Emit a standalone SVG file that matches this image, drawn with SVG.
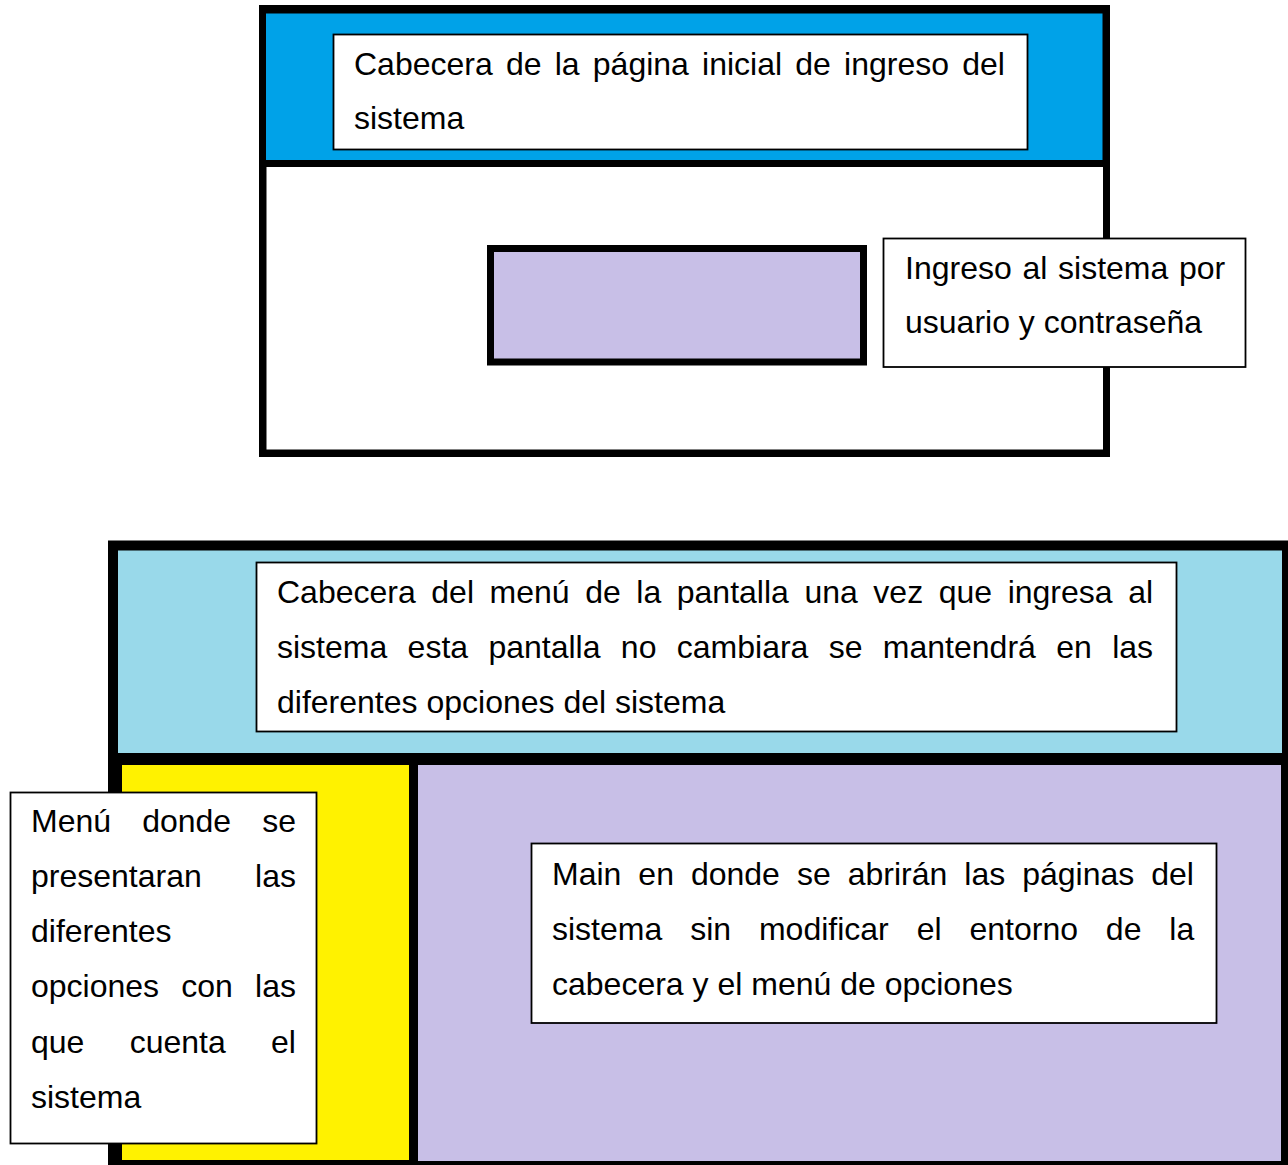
<svg xmlns="http://www.w3.org/2000/svg" width="1288" height="1165" viewBox="0 0 1288 1165">
  <style>
    .frame { fill: #000000; }
    .label { fill: #ffffff; stroke: #000000; stroke-width: 1.8; }
    .txt { font-family: "Liberation Sans", Arial, sans-serif; font-size: 32px; fill: #000000; }
  </style>
  <rect width="1288" height="1165" fill="#ffffff"/>

  <g id="login-screen">
    <rect class="frame" x="259" y="5" width="851" height="452"/>
    <rect x="266" y="13.5" width="836.5" height="146.5" fill="#00A2E8"/>
    <rect x="266.5" y="167" width="836.5" height="282.5" fill="#ffffff"/>
  </g>

  <g id="login-input">
    <rect x="490.5" y="248.5" width="373" height="113.5" fill="#C8BFE7" stroke="#000000" stroke-width="7"/>
  </g>

  <g id="login-header-label">
    <rect class="label" x="333.5" y="34.5" width="694" height="115"/>
    <text class="txt" x="354" y="75" style="word-spacing:4.3px">Cabecera de la página inicial de ingreso del</text>
    <text class="txt" x="354" y="129">sistema</text>
  </g>

  <g id="login-input-label">
    <rect class="label" x="883.5" y="238.5" width="362" height="128.5"/>
    <text class="txt" x="905" y="279" style="word-spacing:1.8px">Ingreso al sistema por</text>
    <text class="txt" x="905" y="333">usuario y contraseña</text>
  </g>

  <g id="main-screen">
    <rect class="frame" x="108" y="540.5" width="1184" height="630"/>
    <rect x="118" y="550.5" width="1164" height="202.5" fill="#99D9EA"/>
    <rect x="122" y="765" width="287" height="395" fill="#FFF200"/>
    <rect x="418" y="765" width="863" height="396" fill="#C8BFE7"/>
  </g>

  <g id="main-header-label">
    <rect class="label" x="256.5" y="562.5" width="920" height="169"/>
    <text class="txt" x="277" y="603" style="word-spacing:6.66px">Cabecera del menú de la pantalla una vez que ingresa al</text>
    <text class="txt" x="277" y="658" style="word-spacing:11.45px">sistema esta pantalla no cambiara se mantendrá en las</text>
    <text class="txt" x="277" y="713">diferentes opciones del sistema</text>
  </g>

  <g id="menu-label">
    <rect class="label" x="10.5" y="792.5" width="306" height="351"/>
    <text class="txt" x="31" y="832" style="word-spacing:22.2px">Menú donde se</text>
    <text class="txt" x="31" y="887" style="word-spacing:44.4px">presentaran las</text>
    <text class="txt" x="31" y="942">diferentes</text>
    <text class="txt" x="31" y="997" style="word-spacing:13.3px">opciones con las</text>
    <text class="txt" x="31" y="1053" style="word-spacing:36.4px">que cuenta el</text>
    <text class="txt" x="31" y="1108">sistema</text>
  </g>

  <g id="main-content-label">
    <rect class="label" x="531.5" y="843.5" width="685" height="179.5"/>
    <text class="txt" x="552" y="885" style="word-spacing:8.1px">Main en donde se abrirán las páginas del</text>
    <text class="txt" x="552" y="940" style="word-spacing:19px">sistema sin modificar el entorno de la</text>
    <text class="txt" x="552" y="995">cabecera y el menú de opciones</text>
  </g>

  <g id="connectors"></g>
</svg>
